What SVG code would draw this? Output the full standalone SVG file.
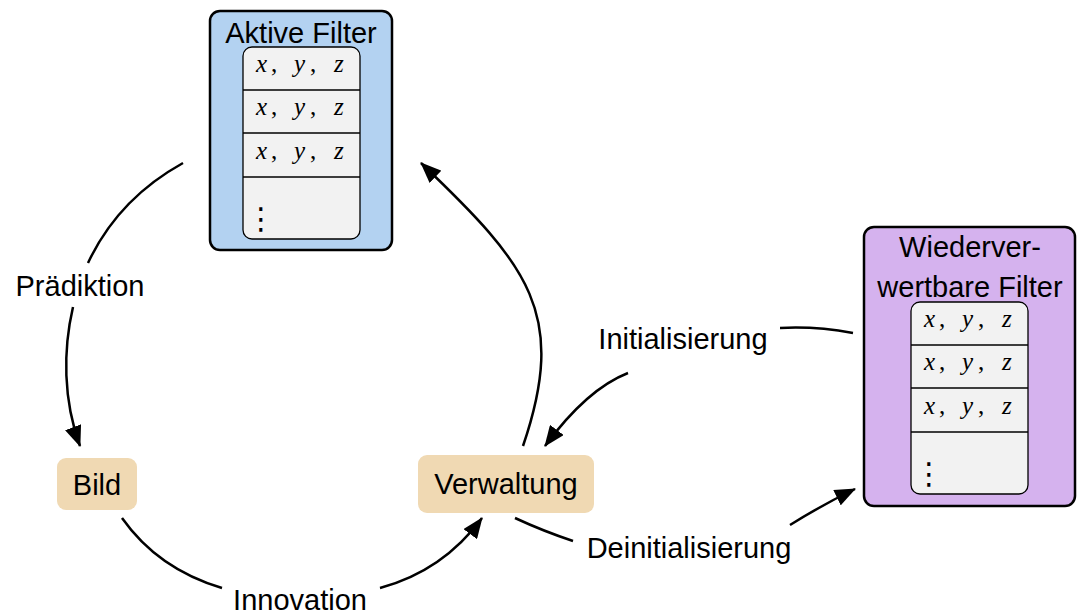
<svg xmlns="http://www.w3.org/2000/svg" width="1078" height="616" viewBox="0 0 1078 616">
  <defs>
    <marker id="arr" viewBox="0 0 21 17" refX="20" refY="8.5" markerWidth="21" markerHeight="17" markerUnits="userSpaceOnUse" orient="auto">
      <path d="M0,0 L21,8.5 L0,17 z" fill="#000"/>
    </marker>
    <style>
      .lbl { font-family: "Liberation Sans", Arial, sans-serif; font-size: 29px; fill: #000; text-anchor: middle; }
      .math { font-family: "Liberation Serif", "Times New Roman", serif; font-size: 25px; fill: #000; }
      .mi { font-style: italic; }
      .dots { font-family: "DejaVu Sans", sans-serif; font-size: 30px; fill: #000; }
      .outer { stroke: #000; stroke-width: 2.5; }
      .list { fill: #f2f2f2; stroke: #000; stroke-width: 1.3; }
      .sep { stroke: #000; stroke-width: 1.3; }
      .node { fill: #f0d9b3; }
      .edge { fill: none; stroke: #000; stroke-width: 2.5; }
    </style>
  </defs>
  <rect width="1078" height="616" fill="#fff"/>

  <g id="aktive-filter">
    <rect class="outer" x="210" y="11" width="182" height="239" rx="10" fill="#b3d2f1"/>
    <text class="lbl" x="301" y="43">Aktive Filter</text>
    <rect class="list" x="243" y="47" width="117" height="192" rx="9"/>
    <line class="sep" x1="243" y1="90" x2="360" y2="90"/>
    <line class="sep" x1="243" y1="133" x2="360" y2="133"/>
    <line class="sep" x1="243" y1="177" x2="360" y2="177"/>
    <text class="math" y="72"><tspan class="mi" x="256">x</tspan><tspan x="271">,</tspan><tspan class="mi" x="294">y</tspan><tspan x="310">,</tspan><tspan class="mi" x="334">z</tspan></text>
    <text class="math" y="115"><tspan class="mi" x="256">x</tspan><tspan x="271">,</tspan><tspan class="mi" x="294">y</tspan><tspan x="310">,</tspan><tspan class="mi" x="334">z</tspan></text>
    <text class="math" y="159"><tspan class="mi" x="256">x</tspan><tspan x="271">,</tspan><tspan class="mi" x="294">y</tspan><tspan x="310">,</tspan><tspan class="mi" x="334">z</tspan></text>
    <text class="dots" x="246" y="229">⋮</text>
  </g>

  <g id="wiederverwertbare-filter">
    <rect class="outer" x="864" y="227" width="211" height="279" rx="10" fill="#d5b2ee"/>
    <text class="lbl" x="970" y="257">Wiederver-</text>
    <text class="lbl" x="970" y="297">wertbare Filter</text>
    <rect class="list" x="911" y="302" width="117" height="192" rx="9"/>
    <line class="sep" x1="911" y1="345" x2="1028" y2="345"/>
    <line class="sep" x1="911" y1="388" x2="1028" y2="388"/>
    <line class="sep" x1="911" y1="432" x2="1028" y2="432"/>
    <text class="math" y="327"><tspan class="mi" x="924">x</tspan><tspan x="939">,</tspan><tspan class="mi" x="962">y</tspan><tspan x="978">,</tspan><tspan class="mi" x="1002">z</tspan></text>
    <text class="math" y="370"><tspan class="mi" x="924">x</tspan><tspan x="939">,</tspan><tspan class="mi" x="962">y</tspan><tspan x="978">,</tspan><tspan class="mi" x="1002">z</tspan></text>
    <text class="math" y="414"><tspan class="mi" x="924">x</tspan><tspan x="939">,</tspan><tspan class="mi" x="962">y</tspan><tspan x="978">,</tspan><tspan class="mi" x="1002">z</tspan></text>
    <text class="dots" x="914" y="484">⋮</text>
  </g>

  <g id="bild">
    <rect class="node" x="57" y="458" width="80" height="52" rx="9"/>
    <text class="lbl" x="97" y="495">Bild</text>
  </g>

  <g id="verwaltung">
    <rect class="node" x="418" y="455" width="176" height="58" rx="9"/>
    <text class="lbl" x="506" y="494">Verwaltung</text>
  </g>

  <g id="connectors">
    <path class="edge" d="M183,163 Q118,199 88,263"/>
    <path class="edge" d="M73,307 C63,350 63,400 80,446" marker-end="url(#arr)"/>
    <text class="lbl" x="80" y="296">Prädiktion</text>

    <path class="edge" d="M523,446 C568,314 529,266 421,163" marker-end="url(#arr)"/>

    <path class="edge" d="M853,333 Q815,326 780,328"/>
    <path class="edge" d="M628,373 Q587,389 545,446" marker-end="url(#arr)"/>
    <text class="lbl" x="683" y="349">Initialisierung</text>

    <path class="edge" d="M515,518 Q543,531 573,541"/>
    <path class="edge" d="M790,525 Q822,505 855,489" marker-end="url(#arr)"/>
    <text class="lbl" x="689" y="558">Deinitialisierung</text>

    <path class="edge" d="M122,518 Q158,569 222,588"/>
    <path class="edge" d="M380,588 Q443,571 482,518" marker-end="url(#arr)"/>
    <text class="lbl" x="300" y="610">Innovation</text>
  </g>
</svg>
